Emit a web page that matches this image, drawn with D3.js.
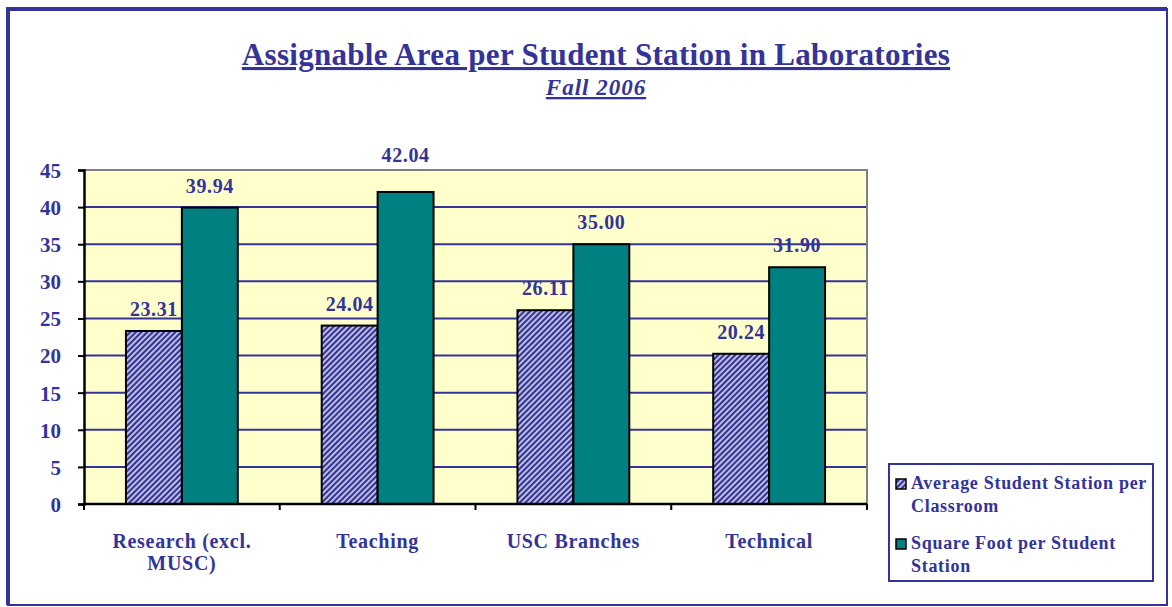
<!DOCTYPE html>
<html>
<head>
<meta charset="utf-8">
<script src="https://cdn.jsdelivr.net/npm/d3@7"></script>
<style>
  body { margin: 0; background: #fff; }
  svg text { font-family: "Liberation Serif", "Times New Roman", serif; font-weight: bold; fill: #333399; }
</style>
</head>
<body>
<svg id="chart" width="1172" height="607"></svg>
<script>
// chart data
var categories = [["Research (excl.", "MUSC)"], ["Teaching"], ["USC Branches"], ["Technical"]];
var seriesNames = [["Average Student Station per", "Classroom"], ["Square Foot per Student", "Station"]];
var avgStation = [23.31, 24.04, 26.11, 20.24];
var sqFoot = [39.94, 42.04, 35.00, 31.90];
var yTicks = [0, 5, 10, 15, 20, 25, 30, 35, 40, 45];

var navy = "#333399";
var teal = "#008080";

var svg = d3.select("#chart");

// hatch pattern for first series
var defs = svg.append("defs");
var pat = defs.append("pattern")
    .attr("id", "hatch")
    .attr("patternUnits", "userSpaceOnUse")
    .attr("width", 4).attr("height", 4)
    .attr("patternTransform", "rotate(45)");
pat.append("rect").attr("width", 4).attr("height", 4).attr("fill", navy);
pat.append("rect").attr("width", 1.7).attr("height", 4).attr("fill", "#d4d4f0");

// outer frame: thick top/left, thin right/bottom
svg.append("rect").attr("x", 8).attr("y", 9).attr("width", 1159).attr("height", 596)
    .attr("fill", "#fff").attr("stroke", navy).attr("stroke-width", 2);
svg.append("path").attr("d", "M8,605 V9 H1167").attr("fill", "none")
    .attr("stroke", navy).attr("stroke-width", 4);

// titles
svg.append("text").attr("x", 596).attr("y", 65).attr("text-anchor", "middle")
    .style("font-size", "31px").style("letter-spacing", "0.3px").style("text-decoration", "underline")
    .text("Assignable Area per Student Station in Laboratories");
svg.append("text").attr("x", 596).attr("y", 95).attr("text-anchor", "middle")
    .style("font-size", "23px").style("letter-spacing", "1px")
    .style("font-style", "italic").style("text-decoration", "underline")
    .text("Fall 2006");

// plot area
var pLeft = 84, pRight = 867, pTop = 170, pBottom = 504;

var x = d3.scaleBand().domain(d3.range(categories.length)).range([pLeft, pRight]);
var y = d3.scaleLinear().domain([0, 45]).range([pBottom, pTop]);

svg.append("rect").attr("x", pLeft).attr("y", pTop)
    .attr("width", pRight - pLeft).attr("height", pBottom - pTop)
    .attr("fill", "#FFFFCC");

// gridlines
svg.append("g").selectAll("line").data(yTicks.slice(1, -1)).enter().append("line")
    .attr("x1", pLeft).attr("x2", pRight)
    .attr("y1", d => y(d)).attr("y2", d => y(d))
    .attr("stroke", navy).attr("stroke-width", 2);

// gray border top/right
svg.append("path").attr("d", "M" + pLeft + "," + pTop + " H" + pRight + " V" + pBottom)
    .attr("fill", "none").attr("stroke", "#808080").attr("stroke-width", 2);

// bars
var barW = x.bandwidth() * 2 / 7;
var groups = [avgStation, sqFoot];
var fills = ["url(#hatch)", teal];

groups.forEach(function(vals, s) {
    svg.append("g").selectAll("rect").data(vals).enter().append("rect")
        .attr("x", (d, i) => x(i) + x.bandwidth() * 1.5 / 7 + s * barW)
        .attr("y", d => y(d))
        .attr("width", barW)
        .attr("height", d => pBottom - y(d))
        .attr("fill", fills[s])
        .attr("stroke", "#000").attr("stroke-width", 2);
});

// data labels
groups.forEach(function(vals, s) {
    svg.append("g").selectAll("text").data(vals).enter().append("text")
        .attr("x", (d, i) => x(i) + x.bandwidth() * 1.5 / 7 + s * barW + barW / 2)
        .attr("y", function(d) {
            var b = y(d) - 15;
            // push labels that would hit the plot frame above it
            if (b - 13 < pTop) b -= 15;
            return b;
        })
        .attr("text-anchor", "middle")
        .style("font-size", "20px").style("letter-spacing", "0.6px")
        .text(d => d.toFixed(2));
});

// y axis
var yAxis = svg.append("g").attr("transform", "translate(" + pLeft + ",0)")
    .call(d3.axisLeft(y).tickValues(yTicks).tickSize(6).tickPadding(17).tickFormat(d3.format("d")));
yAxis.select(".domain").attr("stroke", "#000").attr("stroke-width", 2.5);
yAxis.selectAll(".tick line").attr("stroke", "#000").attr("stroke-width", 2);
yAxis.selectAll(".tick text").style("font-size", "21px").attr("fill", navy)
    .style("font-family", "'Liberation Serif', serif").attr("dy", "0.35em");

// x axis
svg.append("line").attr("x1", pLeft).attr("x2", pRight).attr("y1", pBottom).attr("y2", pBottom)
    .attr("stroke", "#000").attr("stroke-width", 2.5);
svg.append("g").selectAll("line").data(d3.range(categories.length + 1)).enter().append("line")
    .attr("x1", d => pLeft + d * x.step()).attr("x2", d => pLeft + d * x.step())
    .attr("y1", pBottom).attr("y2", pBottom + 6)
    .attr("stroke", "#000").attr("stroke-width", 2);

var catText = svg.append("g").selectAll("text").data(categories).enter().append("text")
    .attr("x", (d, i) => x(i) + x.bandwidth() / 2)
    .attr("y", 548)
    .attr("text-anchor", "middle")
    .style("font-size", "20px").style("letter-spacing", "0.7px");
catText.selectAll("tspan").data(d => d).enter().append("tspan")
    .attr("x", function() { return d3.select(this.parentNode).attr("x"); })
    .attr("dy", (d, i) => i === 0 ? 0 : 22)
    .text(d => d);

// legend
svg.append("rect").attr("x", 889).attr("y", 464).attr("width", 264).attr("height", 117)
    .attr("fill", "#fff").attr("stroke", navy).attr("stroke-width", 2);
var legendY = [489, 549];
seriesNames.forEach(function(lines, s) {
    svg.append("rect").attr("x", 896).attr("y", legendY[s] - 10).attr("width", 10).attr("height", 10)
        .attr("fill", fills[s]).attr("stroke", "#000").attr("stroke-width", 1.5);
    var t = svg.append("text").attr("x", 911).attr("y", legendY[s])
        .style("font-size", "18px").style("letter-spacing", "0.7px");
    t.selectAll("tspan").data(lines).enter().append("tspan")
        .attr("x", 911).attr("dy", (d, i) => i === 0 ? 0 : 23)
        .text(d => d);
});
</script>
</body>
</html>
